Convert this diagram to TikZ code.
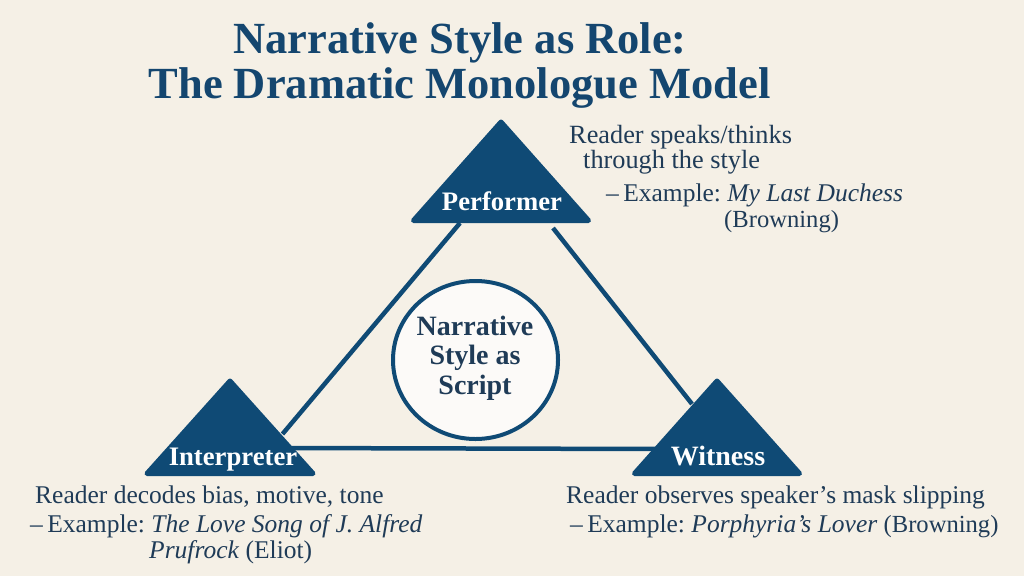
\documentclass[tikz,border=0pt]{standalone}
\usepackage{fontspec}
\setmainfont{Liberation Serif}
\usetikzlibrary{shapes.geometric,backgrounds}
\definecolor{bgc}{HTML}{F5F0E6}
\definecolor{navy}{HTML}{0F4A75}
\definecolor{ink}{HTML}{1F3B57}
\definecolor{titlec}{HTML}{14466F}
\tikzset{
  x=1pt,y=-1pt,
  tri/.style 2 args={isosceles triangle,isosceles triangle stretches=true,shape border rotate=90,
    fill=navy,draw=navy,line width=5pt,line join=round,inner sep=0pt,outer sep=0pt,anchor=apex,
    minimum width=#1,minimum height=#2},
  link/.style={draw=navy,line width=4.5pt},
  titletext/.style={anchor=base,text=titlec,font=\fontsize{44.5}{44.5}\selectfont\bfseries,inner sep=0pt},
  rolename/.style={anchor=base,text=white,font=\fontsize{26.7}{26.7}\selectfont\bfseries,inner sep=0pt},
  centertext/.style={anchor=base,text=ink,font=\fontsize{28}{28}\selectfont\bfseries,inner sep=0pt},
  body/.style={anchor=base west,text=ink,font=\fontsize{25.5}{25.5}\selectfont,inner sep=0pt},
  bodylarge/.style={body,font=\fontsize{26.3}{26.3}\selectfont},
}
\newcommand{\dashex}{–\kern-2pt\ Example:}
\newcommand{\smallparen}[1]{{\fontsize{24.6}{24.6}\selectfont #1}}
\begin{document}
\begin{tikzpicture}
\useasboundingbox (0,0) rectangle (1024,576);
\node[tri={175pt}{98.5pt}] (perf) at (501,122) {};
\node[tri={166pt}{92.5pt}] (interp) at (230,381) {};
\node[tri={165pt}{92.5pt}] (wit) at (717,381) {};
\node[ellipse,draw=navy,line width=4pt,fill=white!70!bgc,minimum width=165pt,minimum height=158pt,inner sep=0pt] (hub) at (475.5,360) {};
\begin{scope}[on background layer]
\fill[bgc] (0,0) rectangle (1024,576);
\draw[link] ([shift={(-41,2.5)}]perf.lower side) -- ([shift={(52.5,-39.5)}]interp.lower side);
\draw[link] ([shift={(52,7.5)}]perf.lower side) -- ([shift={(-25,-69.5)}]wit.lower side);
\draw[link] ([shift={(50,-25.5)}]interp.lower side) -- ([shift={(-58,-24.5)}]wit.lower side);
\end{scope}
\node[titletext] (t1) at (460,53) {Narrative Style as Role:};
\node[titletext] (t2) at (459.5,98) {The Dramatic Monologue Model};
\node[rolename] (lp) at (502,210) {Performer};
\node[rolename] (li) at (233,465) {Interpreter};
\node[rolename,font=\fontsize{28}{28}\selectfont\bfseries] (lw) at (718,465) {Witness};
\node[centertext] (c1) at (475,335) {Narrative};
\node[centertext] (c2) at (475,364) {Style as};
\node[centertext] (c3) at (475,394) {Script};
\node[bodylarge] (p1) at (569,143) {Reader speaks/thinks};
\node[bodylarge] (p2) at (583,168) {through the style};
\node[body] (p3) at (606,201) {\dashex\ \textit{My Last Duchess}};
\node[body] (p4) at (724,227) {\smallparen{(Browning)}};
\node[body] (i1) at (35,503) {Reader decodes bias, motive, tone};
\node[body] (i2) at (30,532) {\dashex\ \textit{The Love Song of J. Alfred}};
\node[body] (i3) at (149,558) {\textit{Prufrock} (Eliot)};
\node[body] (w1) at (566,503) {Reader observes speaker’s mask slipping};
\node[body] (w2) at (570,532) {\dashex\ \textit{Porphyria’s Lover} \smallparen{(Browning)}};
\end{tikzpicture}
\end{document}
